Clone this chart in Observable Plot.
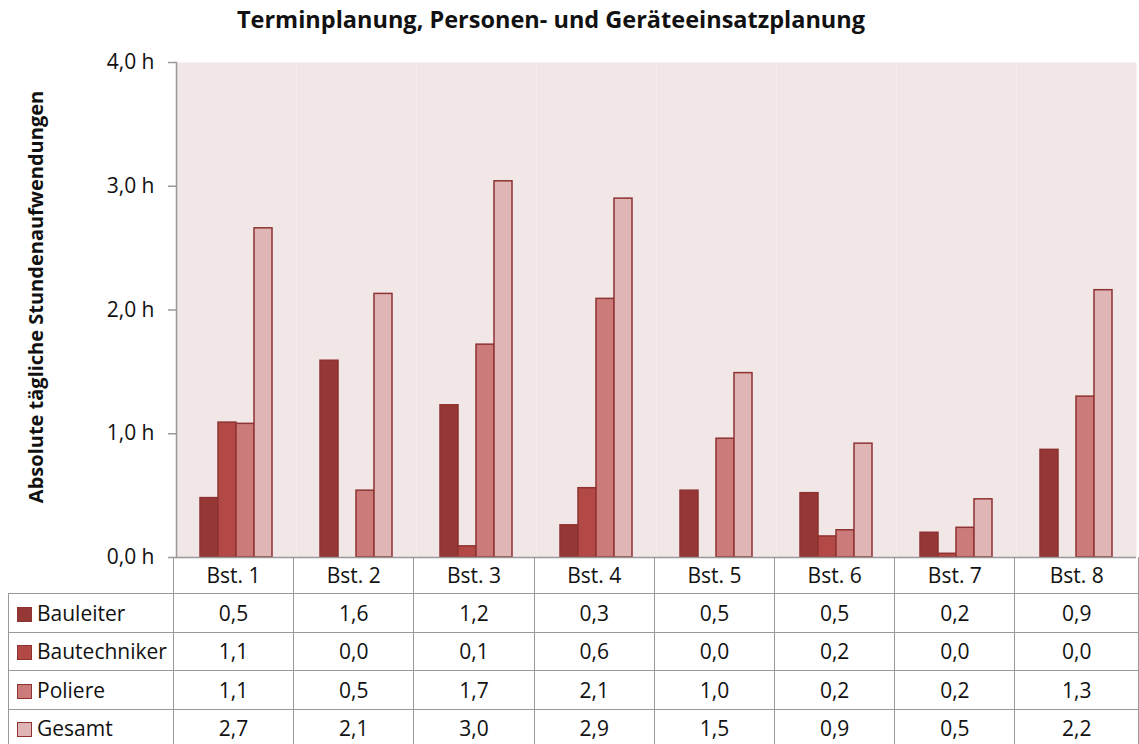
<!DOCTYPE html>
<html>
<head>
<meta charset="utf-8">
<script src="https://cdn.jsdelivr.net/npm/d3@7"></script>
<script src="https://cdn.jsdelivr.net/npm/@observablehq/plot@0.6"></script>
<style>
  html, body { margin: 0; padding: 0; background: #fff; }
  #wrap { position: relative; width: 1139px; height: 744px; overflow: hidden; background: #fff; font-family: "Open Sans", sans-serif; color: #111; }
  #title { position: absolute; left: 0; top: 4px; width: 1102px; text-align: center; font-weight: bold; font-size: 23.5px; line-height: 30px; }
  #ylabel { position: absolute; left: 35px; top: 297px; transform: translate(-50%, -50%) rotate(-90deg); white-space: nowrap; font-weight: bold; font-size: 20px; }
  #chart { position: absolute; left: 0; top: 0; }
  #tbl { position: absolute; left: 8px; top: 557px; border-collapse: collapse; table-layout: fixed; font-size: 21px; }
  #tbl td { border: 1.5px solid #999; text-align: center; padding: 0; white-space: nowrap; }
  #tbl tr.head td { border-top: none; height: 36px; }
  #tbl tr.head td.blank { border: none; }
  #tbl tr.body td { height: 37.5px; }
  #tbl td.lab { text-align: left; padding-left: 8px; }
  .sw { display: inline-block; width: 13px; height: 13px; border: 1px solid #8e3331; margin-right: 5px; vertical-align: -1px; }
</style>
</head>
<body>
<div id="wrap">
  <div id="chart"></div>
  <div id="title">Terminplanung, Personen- und Geräteeinsatzplanung</div>
  <div id="ylabel">Absolute tägliche Stundenaufwendungen</div>
  <table id="tbl"></table>
</div>
<script>
const categories = ["Bst. 1", "Bst. 2", "Bst. 3", "Bst. 4", "Bst. 5", "Bst. 6", "Bst. 7", "Bst. 8"];
const series = ["Bauleiter", "Bautechniker", "Poliere", "Gesamt"];
const bauleiter    = [0.48, 1.59, 1.23, 0.26, 0.54, 0.52, 0.20, 0.87];
const bautechniker = [1.09, 0.00, 0.09, 0.56, 0.00, 0.17, 0.03, 0.00];
const poliere      = [1.08, 0.54, 1.72, 2.09, 0.96, 0.22, 0.24, 1.30];
const gesamt       = [2.66, 2.13, 3.04, 2.90, 1.49, 0.92, 0.47, 2.16];
const yTicks = [0, 1, 2, 3, 4];
const colors = ["#953735", "#b24947", "#cc7b7b", "#e0b5b5"];

const valuesBySeries = [bauleiter, bautechniker, poliere, gesamt];
const rows = [];
categories.forEach((c, i) => {
  series.forEach((s, j) => rows.push({cat: c, series: s, value: valuesBySeries[j][i]}));
});

const fmt = v => d3.format(".1f")(v).replace(".", ",");

const chart = Plot.plot({
  width: 1139,
  height: 558,
  marginTop: 62,
  marginLeft: 173,
  marginRight: 0,
  marginBottom: 1,
  style: {fontFamily: "Open Sans", fontSize: "20px", color: "#111", background: "transparent", overflow: "visible"},
  fx: {domain: categories, padding: 0, axis: null},
  x: {domain: series, paddingInner: 0, paddingOuter: 1.22, axis: null},
  y: {domain: [0, 4], axis: null},
  color: {domain: series, range: colors},
  marks: [
    Plot.frame({fill: "#f2e7e7", stroke: null}),
    Plot.barY(rows, {fx: "cat", x: "series", y: "value", fill: "series", stroke: "#8e3331", strokeWidth: 1.5, filter: d => d.value > 0}),
    Plot.ruleY([0], {stroke: "#999", strokeWidth: 1.5}),
    Plot.axisY({ticks: yTicks, tickFormat: d => fmt(d) + " h", tickSize: 8, tickPadding: 14, stroke: "#999", strokeWidth: 1.5, strokeOpacity: 1, fontSize: 21, label: null}),
    Plot.frame({anchor: "left", stroke: "#999", strokeWidth: 1.5, strokeOpacity: 1, facetAnchor: "left"})
  ]
});
document.getElementById("chart").appendChild(chart);

// data table below the chart
const tbl = document.getElementById("tbl");
const cg = document.createElement("colgroup");
const c0 = document.createElement("col"); c0.style.width = "165px"; cg.appendChild(c0);
categories.forEach((c, i) => {
  const col = document.createElement("col");
  col.style.width = (i === categories.length - 1 ? 124 : 120.75) + "px";
  cg.appendChild(col);
});
tbl.appendChild(cg);
const head = document.createElement("tr"); head.className = "head";
const blank = document.createElement("td"); blank.className = "blank"; head.appendChild(blank);
categories.forEach(c => { const td = document.createElement("td"); td.textContent = c; head.appendChild(td); });
tbl.appendChild(head);
series.forEach((s, j) => {
  const tr = document.createElement("tr"); tr.className = "body";
  const lab = document.createElement("td"); lab.className = "lab";
  const sw = document.createElement("span"); sw.className = "sw"; sw.style.background = colors[j];
  lab.appendChild(sw); lab.appendChild(document.createTextNode(s));
  tr.appendChild(lab);
  valuesBySeries[j].forEach(v => { const td = document.createElement("td"); td.textContent = fmt(v); tr.appendChild(td); });
  tbl.appendChild(tr);
});
</script>
</body>
</html>
